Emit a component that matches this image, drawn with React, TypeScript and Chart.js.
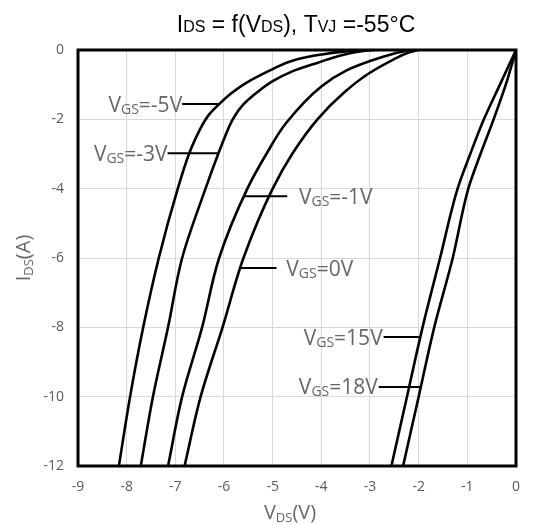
import React, { useEffect, useRef } from "react";
import { Chart, registerables } from "chart.js";

Chart.register(...registerables);

// ---- Data ----
const vdsVgsM5 = [-8.16, -7.93, -7.66, -7.34, -6.95, -6.72, -6.6, -6.46, -6.3, -6.1, -5.85, -5.56, -5.0, -4.58, -4.0, -3.5, -3.1];
const idsVgsM5 = [-12, -10, -8, -6, -4, -3, -2.6, -2.2, -1.85, -1.56, -1.25, -0.96, -0.55, -0.3, -0.13, -0.04, 0];

const vdsVgsM3 = [-7.71, -7.46, -7.15, -6.86, -6.38, -6.12, -5.98, -5.82, -5.62, -5.3, -5.0, -4.62, -4.1, -3.5, -3.1, -2.9];
const idsVgsM3 = [-12, -10, -8, -6, -4, -3, -2.5, -2, -1.6, -1.2, -0.9, -0.63, -0.38, -0.12, -0.02, 0];

const vdsVgsM1 = [-7.15, -6.86, -6.45, -6.1, -5.52, -5.13, -4.72, -4.0, -3.5, -3.0, -2.5, -2.2];
const idsVgsM1 = [-12, -10, -8, -6, -4, -3, -2.1, -1.05, -0.6, -0.32, -0.1, 0];

const vdsVgs0 = [-6.81, -6.48, -6.03, -5.6, -5.0, -4.6, -4.08, -3.55, -3.05, -2.55, -2.22, -2.02];
const idsVgs0 = [-12, -10, -8, -6, -4, -3, -2, -1.25, -0.7, -0.3, -0.08, 0];

const vdsVgs15 = [-2.56, -2.24, -1.92, -1.56, -1.2, -0.94, -0.66, -0.33, 0];
const idsVgs15 = [-12, -10, -8, -6, -4, -3, -2, -1, 0];

const vdsVgs18 = [-2.32, -2.0, -1.68, -1.3, -0.98, -0.73, -0.46, -0.21, 0];
const idsVgs18 = [-12, -10, -8, -6, -4, -3, -2, -1, 0];

const seriesValues = ["-5V", "-3V", "-1V", "0V", "15V", "18V"];
const seriesVds = [vdsVgsM5, vdsVgsM3, vdsVgsM1, vdsVgs0, vdsVgs15, vdsVgs18];
const seriesIds = [idsVgsM5, idsVgsM3, idsVgsM1, idsVgs0, idsVgs15, idsVgs18];

const xMin = -9;
const xMax = 0;
const xStep = 1;
const yMin = -12;
const yMax = 0;
const yStep = 2;

// ---- Annotation placement (label leaders, in data units) ----
const labelIds = [-1.56, -2.98, -4.22, -6.29, -8.28, -9.72];
const leaderFrom = [-6.86, -7.16, -5.6, -5.66, -2.72, -2.82];
const leaderTo = [-6.08, -6.12, -4.7, -4.92, -1.96, -1.96];
const textAnchor = [-6.86, -7.16, -4.46, -4.72, -2.74, -2.84];
const textSide = ["right", "right", "left", "left", "right", "right"];

type Part = { t: string; sub?: boolean };

function drawParts(
  ctx: CanvasRenderingContext2D,
  parts: Part[],
  x: number,
  y: number,
  align: "left" | "right" | "center",
  mainFont: string,
  subFont: string,
  subDy: number
) {
  ctx.save();
  ctx.textBaseline = "alphabetic";
  ctx.textAlign = "left";
  const widths = parts.map((p) => {
    ctx.font = p.sub ? subFont : mainFont;
    return ctx.measureText(p.t).width;
  });
  const total = widths.reduce((a, b) => a + b, 0);
  let cx = align === "left" ? x : align === "right" ? x - total : x - total / 2;
  parts.forEach((p, i) => {
    ctx.font = p.sub ? subFont : mainFont;
    ctx.fillText(p.t, cx, p.sub ? y + subDy : y);
    cx += widths[i];
  });
  ctx.restore();
}

const GRAY = "#595959";
const LABEL_GRAY = "#666666";
const SANS = "'Open Sans', 'Noto Sans', sans-serif";

const framePlugin = {
  id: "frame",
  beforeDatasetsDraw(chart: any) {
    const { ctx, chartArea } = chart;
    ctx.save();
    ctx.strokeStyle = "#000";
    ctx.lineWidth = 3;
    ctx.strokeRect(chartArea.left, chartArea.top, chartArea.right - chartArea.left, chartArea.bottom - chartArea.top);
    ctx.restore();
  },
};

const textPlugin = {
  id: "texts",
  afterDraw(chart: any) {
    const { ctx, chartArea } = chart;
    const xs = chart.scales.x;
    const ys = chart.scales.y;

    // Title
    ctx.fillStyle = "#000";
    drawParts(
      ctx,
      [
        { t: "I" },
        { t: "DS", sub: true },
        { t: " = f(V" },
        { t: "DS", sub: true },
        { t: "), T" },
        { t: "VJ", sub: true },
        { t: " =-55°C" },
      ],
      296,
      32,
      "center",
      "23px 'Liberation Sans', Arial, sans-serif",
      "16px 'Liberation Sans', Arial, sans-serif",
      0
    );

    // X axis title
    ctx.fillStyle = LABEL_GRAY;
    drawParts(
      ctx,
      [{ t: "V" }, { t: "DS", sub: true }, { t: "(V)" }],
      290,
      519,
      "center",
      `20px ${SANS}`,
      `13px ${SANS}`,
      3
    );

    // Y axis title (rotated)
    ctx.save();
    ctx.translate(30, (chartArea.top + chartArea.bottom) / 2);
    ctx.rotate(-Math.PI / 2);
    ctx.fillStyle = LABEL_GRAY;
    drawParts(
      ctx,
      [{ t: "I" }, { t: "DS", sub: true }, { t: "(A)" }],
      0,
      0,
      "center",
      `20px ${SANS}`,
      `13px ${SANS}`,
      3
    );
    ctx.restore();

    // Series labels with leader lines
    seriesValues.forEach((val, i) => {
      const y = ys.getPixelForValue(labelIds[i]);
      const x1 = xs.getPixelForValue(leaderFrom[i]);
      const x2 = xs.getPixelForValue(leaderTo[i]);
      ctx.save();
      ctx.strokeStyle = "#000";
      ctx.lineWidth = 2;
      ctx.beginPath();
      ctx.moveTo(x1, y);
      ctx.lineTo(x2, y);
      ctx.stroke();
      ctx.restore();
      ctx.fillStyle = LABEL_GRAY;
      drawParts(
        ctx,
        [{ t: "V" }, { t: "GS", sub: true }, { t: "=" + val }],
        xs.getPixelForValue(textAnchor[i]),
        y + 7.5,
        textSide[i] as "left" | "right",
        `21px ${SANS}`,
        `14px ${SANS}`,
        2
      );
    });
  },
};

export default function App() {
  const ref = useRef<HTMLCanvasElement | null>(null);

  useEffect(() => {
    if (!ref.current) return;
    const chart = new Chart(ref.current, {
      type: "scatter",
      data: {
        datasets: seriesValues.map((name, k) => ({
          label: "VGS=" + name,
          data: seriesVds[k].map((v, i) => ({ x: v, y: seriesIds[k][i] })),
          showLine: true,
          borderColor: "#000",
          backgroundColor: "#000",
          borderWidth: 2.6,
          pointRadius: 0,
          pointHoverRadius: 0,
          cubicInterpolationMode: "monotone" as const,
          fill: false,
        })),
      },
      options: {
        indexAxis: "y",
        responsive: false,
        animation: false,
        devicePixelRatio: 1,
        layout: { padding: { top: 50, right: 5, left: 0, bottom: 0 } },
        plugins: {
          legend: { display: false },
          tooltip: { enabled: false },
          title: { display: false },
        },
        scales: {
          x: {
            type: "linear",
            position: "bottom",
            min: xMin,
            max: xMax,
            ticks: {
              stepSize: xStep,
              color: GRAY,
              font: { family: SANS, size: 14 },
              padding: 13,
            },
            grid: { color: "#d9d9d9", lineWidth: 1, drawTicks: false },
            border: { display: false },
            afterFit: (s: any) => {
              s.height = 59;
            },
          },
          y: {
            type: "linear",
            position: "left",
            min: yMin,
            max: yMax,
            ticks: {
              stepSize: yStep,
              color: GRAY,
              font: { family: SANS, size: 14 },
              padding: 14,
            },
            grid: { color: "#d9d9d9", lineWidth: 1, drawTicks: false },
            border: { display: false },
            afterFit: (s: any) => {
              s.width = 78;
            },
          },
        },
      },
      plugins: [framePlugin, textPlugin],
    });
    return () => chart.destroy();
  }, []);

  return (
    <div style={{ position: "fixed", left: 0, top: 0, width: 533, height: 525, background: "#fff" }}>
      <canvas ref={ref} width={533} height={525} style={{ width: 533, height: 525, display: "block" }} />
    </div>
  );
}
